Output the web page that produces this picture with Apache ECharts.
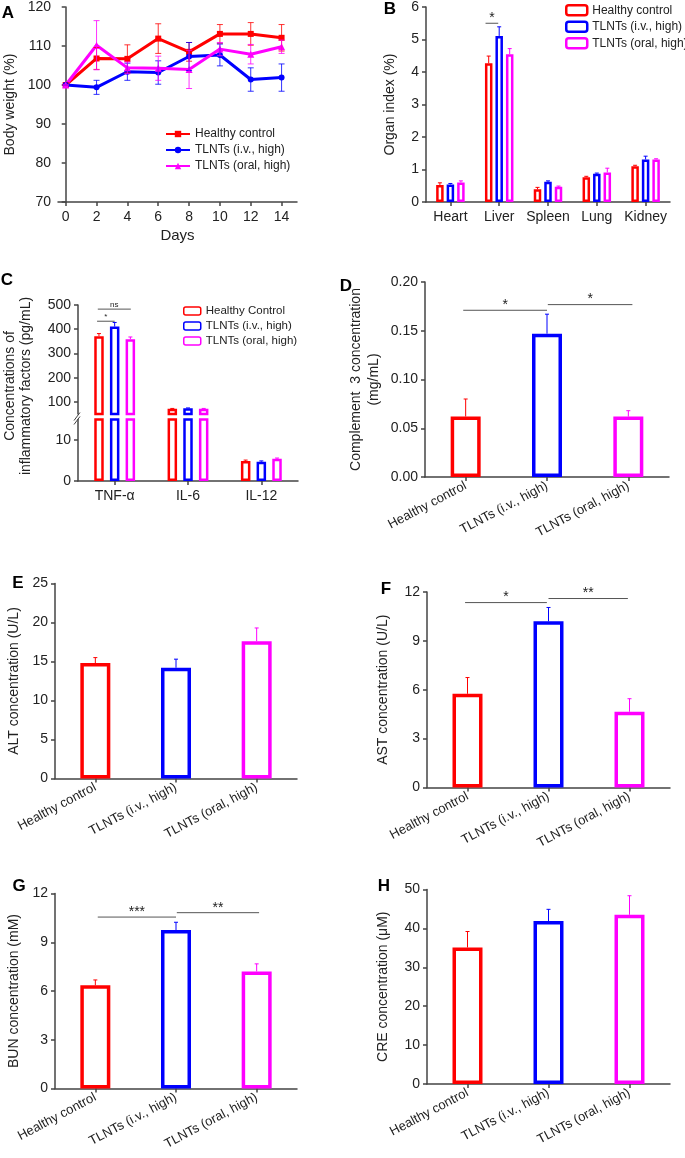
<!DOCTYPE html>
<html>
<head>
<meta charset="utf-8">
<script src="https://cdn.jsdelivr.net/npm/echarts@6/dist/echarts.min.js"></script>
<style>
html,body{margin:0;padding:0;background:#fff;}
#chart{width:685px;height:1158px;}
</style>
</head>
<body>
<div id="chart"></div>
<script>
// ---------------- DATA ----------------
const days = [0, 2, 4, 6, 8, 10, 12, 14];
const bwHealthy    = [100, 106.8, 106.7, 111.9, 108.5, 113.1, 113.1, 112.1];
const bwHealthyErr = [0, 2.8, 3.6, 3.8, 2.4, 2.4, 2.9, 3.4];
const bwIv         = [100, 99.4, 103.4, 103.2, 107.3, 107.7, 101.4, 101.9];
const bwIvErr      = [0, 1.8, 2.2, 3.0, 3.6, 2.8, 3.0, 3.5];
const bwOral       = [100, 110.2, 104.4, 104.3, 104.0, 109.2, 107.9, 109.8];
const bwOralErr    = [0, 6.3, 1.5, 3.1, 4.9, 1.7, 2.5, 1.7];

const organs = ['Heart', 'Liver', 'Spleen', 'Lung', 'Kidney'];
const orgHealthy    = [0.52, 4.27, 0.39, 0.76, 1.10];
const orgHealthyErr = [0.07, 0.22, 0.06, 0.03, 0.03];
const orgIv         = [0.54, 5.11, 0.62, 0.87, 1.31];
const orgIvErr      = [0.03, 0.28, 0.03, 0.02, 0.10];
const orgOral       = [0.60, 4.55, 0.47, 0.91, 1.31];
const orgOralErr    = [0.05, 0.17, 0.02, 0.13, 0.02];

const cytokines = ['TNF-α', 'IL-6', 'IL-12'];
const cytHealthy    = [371, 72, 4.9];
const cytHealthyErr = [11, 1, 0.2];
const cytIv         = [411, 74, 4.7];
const cytIvErr      = [17, 1, 0.2];
const cytOral       = [359, 72, 5.4];
const cytOralErr    = [9, 1, 0.2];

const groups = ['Healthy control', 'TLNTs (i.v., high)', 'TLNTs (oral, high)'];
const c3Values  = [0.062, 0.147, 0.062];
const c3Err     = [0.018, 0.020, 0.006];
const altValues = [14.8, 14.2, 17.6];
const altErr    = [0.7, 1.1, 1.7];
const astValues = [5.75, 10.2, 4.65];
const astErr    = [1.0, 0.85, 0.8];
const bunValues = [6.35, 9.75, 7.2];
const bunErr    = [0.33, 0.48, 0.47];
const creValues = [35.1, 41.9, 43.5];
const creErr    = [4.1, 3.0, 4.9];

const dayTicks = [0, 2, 4, 6, 8, 10, 12, 14];
const cUpperTicks = [100, 200, 300, 400, 500];
const cLowerTicks = [0, 10];

// significance brackets: positions in category bands from first category, y in data units
const sigB = [{from: 0.72, to: 0.98, y: 5.5, text: '*'}];
const sigC = [{from: -0.24, to: 0.0, y: 433, text: '*'}, {from: -0.23, to: 0.22, y: 483, text: 'ns'}];
const sigD = [{from: -0.03, to: 1.0, y: 0.171, text: '*'}, {from: 1.01, to: 2.05, y: 0.1768, text: '*'}];
const sigF = [{from: -0.03, to: 0.98, y: 11.35, text: '*'}, {from: 1.0, to: 1.98, y: 11.6, text: '**'}];
const sigG = [{from: 0.03, to: 1.0, y: 10.55, text: '***'}, {from: 1.01, to: 2.03, y: 10.82, text: '**'}];

// ---------------- STYLE ----------------
const FONT = 'Arial, "Liberation Sans", sans-serif';
const RED = '#ff0000', BLUE = '#0000ff', MAG = '#ff00ff';
const GCOL = [RED, BLUE, MAG];
const AX = '#444';
const TXT = '#222';

const chart = echarts.init(document.getElementById('chart'), null, {renderer: 'canvas'});

const grids = [
  {left: 55, top: 7, width: 242, height: 195},      // 0 A
  {left: 426, top: 7, width: 244, height: 195},     // 1 B
  {left: 78, top: 305, width: 220, height: 109},    // 2 C upper
  {left: 78, top: 419.5, width: 220, height: 61.5}, // 3 C lower
  {left: 425, top: 282, width: 244, height: 195},   // 4 D
  {left: 55, top: 583.5, width: 242, height: 195},  // 5 E
  {left: 427, top: 592, width: 243, height: 195.5}, // 6 F
  {left: 55, top: 893.5, width: 242, height: 195},  // 7 G
  {left: 427, top: 889.5, width: 243, height: 194.5}// 8 H
];

function yAx(gi, min, max, interval, name, nameGap, extra) {
  return Object.assign({
    type: 'value', gridIndex: gi, min: min, max: max, interval: interval,
    name: name, nameLocation: 'middle', nameGap: nameGap, nameRotate: 90,
    nameTextStyle: {fontSize: 14, fontFamily: FONT, color: TXT, lineHeight: 18},
    axisLine: {show: true, lineStyle: {color: AX, width: 1.5}},
    axisTick: {show: true, length: 4, lineStyle: {color: AX, width: 1.5}},
    axisLabel: {fontSize: 14, fontFamily: FONT, color: TXT, margin: 7},
    splitLine: {show: false}
  }, extra || {});
}
function xCat(gi, data, rotate, extra) {
  return Object.assign({
    type: 'category', gridIndex: gi, data: data, boundaryGap: true,
    axisLine: {show: true, lineStyle: {color: AX, width: 1.5}},
    axisTick: {show: true, alignWithLabel: true, length: 4, lineStyle: {color: AX, width: 1.5}},
    axisLabel: {fontSize: rotate ? 13 : 14, fontFamily: FONT, color: TXT, rotate: rotate || 0, margin: 8, interval: 0},
    splitLine: {show: false}
  }, extra || {});
}

function errRender(color, offsetPx, cap, both, range) {
  return function (params, api) {
    const i = api.value(0), v = api.value(1), e = api.value(2);
    if (range && (v < range[0] || v > range[1])) return null;
    const c = Array.isArray(color) ? color[params.dataIndex] : color;
    const pv = api.coord([i, v]);
    const pu = api.coord([i, v + e]);
    const pd = both ? api.coord([i, v - e]) : pv;
    const x = pv[0] + offsetPx;
    const st = {stroke: c, lineWidth: 1, opacity: both ? 0.8 : 1};
    const ch = [
      {type: 'line', shape: {x1: x, y1: pd[1], x2: x, y2: pu[1]}, style: st},
      {type: 'line', shape: {x1: x - cap, y1: pu[1], x2: x + cap, y2: pu[1]}, style: st}
    ];
    if (both) ch.push({type: 'line', shape: {x1: x - cap, y1: pd[1], x2: x + cap, y2: pd[1]}, style: st});
    return {type: 'group', children: ch};
  };
}
function errSeries(xi, cats, vals, errs, color, offsetPx, cap, both, range) {
  return {
    type: 'custom', xAxisIndex: xi, yAxisIndex: xi, z: 5,
    renderItem: errRender(color, offsetPx, cap, both, range),
    encode: {x: 0, y: 1},
    data: vals.map((v, i) => [cats ? i : days[i], v, errs[i]]),
    silent: true
  };
}
function sigSeries(xi, list, fontSize) {
  return {
    type: 'custom', xAxisIndex: xi, yAxisIndex: xi, z: 6, silent: true,
    encode: {x: 0, y: 1},
    data: list.map(s => [0, s.y]),
    renderItem: function (params, api) {
      const s = list[params.dataIndex];
      const p0 = api.coord([0, s.y]);
      const band = api.size([1, 0])[0];
      const x1 = p0[0] + s.from * band, x2 = p0[0] + s.to * band, y = p0[1];
      return {type: 'group', children: [
        {type: 'line', shape: {x1: x1, y1: y, x2: x2, y2: y}, style: {stroke: '#555', lineWidth: 1}},
        {type: 'text', style: {text: s.text, x: (x1 + x2) / 2, y: y + (fontSize > 10 ? 2 : 0), align: 'center', verticalAlign: 'bottom',
          fontSize: fontSize, fontFamily: FONT, fill: TXT}}
      ]};
    }
  };
}
function singleBar(xi, vals) {
  return {
    type: 'bar', xAxisIndex: xi, yAxisIndex: xi, barWidth: 30,
    data: vals.map((v, i) => ({value: v, itemStyle: {color: '#fff', borderColor: GCOL[i], borderWidth: 3.5}}))
  };
}

const series = [];
// ---- A: body weight lines
const aSets = [[bwHealthy, bwHealthyErr, RED, 'rect', 6], [bwIv, bwIvErr, BLUE, 'circle', 6], [bwOral, bwOralErr, MAG, 'triangle', 7]];
aSets.forEach((s, k) => {
  series.push({
    name: groups[k], type: 'line', xAxisIndex: 0, yAxisIndex: 0,
    data: days.map((d, i) => [d, s[0][i]]),
    symbol: s[3], symbolSize: s[4], showSymbol: true,
    lineStyle: {color: s[2], width: 3}, itemStyle: {color: s[2]}, z: 3
  });
  series.push(errSeries(0, false, s[0], s[1], s[2], 0, 3, true));
});
// ---- B: organ index grouped bars
const bSets = [[orgHealthy, orgHealthyErr], [orgIv, orgIvErr], [orgOral, orgOralErr]];
bSets.forEach((s, k) => {
  series.push({
    name: 'B|' + groups[k], type: 'bar', xAxisIndex: 1, yAxisIndex: 1, barWidth: 7.5, barGap: '40%',
    itemStyle: {color: '#fff', borderColor: GCOL[k], borderWidth: 2.5},
    data: s[0]
  });
});
bSets.forEach((s, k) => series.push(errSeries(1, true, s[0], s[1], GCOL[k], (k - 1) * 10.5, 2, false)));
series.push(sigSeries(1, sigB, 14));
// ---- C: cytokines broken axis
const cNames = ['Healthy Control', 'TLNTs (i.v., high)', 'TLNTs (oral, high)'];
const cSets = [[cytHealthy, cytHealthyErr], [cytIv, cytIvErr], [cytOral, cytOralErr]];
[2, 3].forEach(gi => {
  cSets.forEach((s, k) => {
    series.push({
      name: 'C|' + cNames[k], type: 'bar', xAxisIndex: gi, yAxisIndex: gi, barWidth: 9.5, barGap: '65%', clip: true,
      itemStyle: {color: '#fff', borderColor: GCOL[k], borderWidth: 2.5},
      data: s[0]
    });
  });
});
cSets.forEach((s, k) => series.push(errSeries(2, true, s[0], s[1], GCOL[k], (k - 1) * 15.7, 2, false, [50, 500])));
cSets.forEach((s, k) => series.push(errSeries(3, true, s[0], s[1], GCOL[k], (k - 1) * 15.7, 2, false, [0, 15])));
series.push(sigSeries(2, sigC, 8));
// axis break mark on C
series.push({
  type: 'custom', xAxisIndex: 3, yAxisIndex: 3, silent: true, z: 7, encode: {x: 0, y: 1},
  data: [[0, 15]],
  renderItem: function (params, api) {
    const p = api.coord([0, 15]);
    const ax = params.coordSys.x;
    const y = p[1];
    const st = {stroke: AX, lineWidth: 1};
    return {type: 'group', children: [
      {type: 'line', shape: {x1: ax - 4, y1: y + 1, x2: ax + 2, y2: y - 7}, style: st},
      {type: 'line', shape: {x1: ax - 4, y1: y + 5, x2: ax + 2, y2: y - 3}, style: st}
    ]};
  }
});
// ---- D-H single bars
[[4, c3Values, c3Err, sigD], [5, altValues, altErr, null], [6, astValues, astErr, sigF],
 [7, bunValues, bunErr, sigG], [8, creValues, creErr, null]].forEach(p => {
  series.push(singleBar(p[0], p[1]));
  series.push(errSeries(p[0], true, p[1], p[2], GCOL, 0, 2, false));
  if (p[3]) series.push(sigSeries(p[0], p[3], 14));
});

const xAxis = [
  {type: 'value', gridIndex: 0, min: -0.5, max: 15,
   name: 'Days', nameLocation: 'middle', nameGap: 26,
   nameTextStyle: {fontSize: 15, fontFamily: FONT, color: TXT},
   axisLine: {show: true, lineStyle: {color: AX, width: 1.5}},
   axisTick: {show: true, length: 4, customValues: dayTicks, lineStyle: {color: AX, width: 1.5}},
   axisLabel: {fontSize: 14, fontFamily: FONT, color: TXT, margin: 8, customValues: dayTicks},
   splitLine: {show: false}},
  xCat(1, organs, 0),
  xCat(2, cytokines, 0, {show: false}),
  xCat(3, cytokines, 0),
  xCat(4, groups, 28),
  xCat(5, groups, 28),
  xCat(6, groups, 28),
  xCat(7, groups, 28),
  xCat(8, groups, 28)
];
const yAxis = [
  yAx(0, 70, 120, 10, 'Body weight (%)', 39),
  yAx(1, 0, 6, 1, 'Organ index (%)', 27),
  yAx(2, 50, 500, null, '', 0, {axisTick: {show: true, length: 4, customValues: cUpperTicks, lineStyle: {color: AX, width: 1.5}},
      axisLabel: {fontSize: 14, fontFamily: FONT, color: TXT, margin: 7, customValues: cUpperTicks}}),
  yAx(3, 0, 15, null, '', 0, {axisTick: {show: true, length: 4, customValues: cLowerTicks, lineStyle: {color: AX, width: 1.5}},
      axisLabel: {fontSize: 14, fontFamily: FONT, color: TXT, margin: 7, customValues: cLowerTicks}}),
  yAx(4, 0, 0.2, 0.05, 'Complement  3 concentration\n(mg/mL)', 42, {axisLabel: {fontSize: 14, fontFamily: FONT, color: TXT, margin: 7, formatter: v => v.toFixed(2)}}),
  yAx(5, 0, 25, 5, 'ALT concentration (U/L)', 32),
  yAx(6, 0, 12, 3, 'AST concentration (U/L)', 35),
  yAx(7, 0, 12, 3, 'BUN concentration (mM)', 32),
  yAx(8, 0, 50, 10, 'CRE concentration (μM)', 35)
];

const legendText = {fontSize: 12, fontFamily: FONT, color: TXT};
const legend = [
  {orient: 'vertical', left: 165, top: 128, itemWidth: 24, itemHeight: 8, itemGap: 4, padding: 0,
   data: groups.slice(), textStyle: legendText},
  {orient: 'vertical', left: 565, top: 4, itemWidth: 21, itemHeight: 10, itemGap: 4, padding: 0,
   data: groups.map(g => 'B|' + g), formatter: n => n.slice(2), textStyle: legendText,
   itemStyle: {borderWidth: 2.5}},
  {orient: 'vertical', left: 183, top: 305, itemWidth: 17, itemHeight: 8, itemGap: 3, padding: 0,
   data: cNames.map(g => 'C|' + g), formatter: n => n.slice(2), textStyle: {fontSize: 11.5, fontFamily: FONT, color: TXT},
   itemStyle: {borderWidth: 1.5}}
];

const letters = [['A', 8, 13], ['B', 390, 9], ['C', 7, 280], ['D', 346, 286], ['E', 18, 583], ['F', 386, 589], ['G', 19, 886], ['H', 384, 886]];
const graphic = letters.map(l => ({
  type: 'text', x: l[1], y: l[2], silent: true,
  style: {text: l[0], align: 'center', verticalAlign: 'middle', font: 'bold 17px ' + FONT, fill: '#000'}
}));
graphic.push({
  type: 'text', x: 18.5, y: 386, rotation: Math.PI / 2, silent: true,
  style: {text: 'Concentrations of\ninflammatory factors (pg/mL)', align: 'center', verticalAlign: 'middle',
    fontSize: 14, fontFamily: FONT, fill: TXT, lineHeight: 16}
});

chart.setOption({
  animation: false,
  backgroundColor: '#fff',
  grid: grids,
  xAxis: xAxis,
  yAxis: yAxis,
  legend: legend,
  graphic: graphic,
  series: series
});
</script>
</body>
</html>
